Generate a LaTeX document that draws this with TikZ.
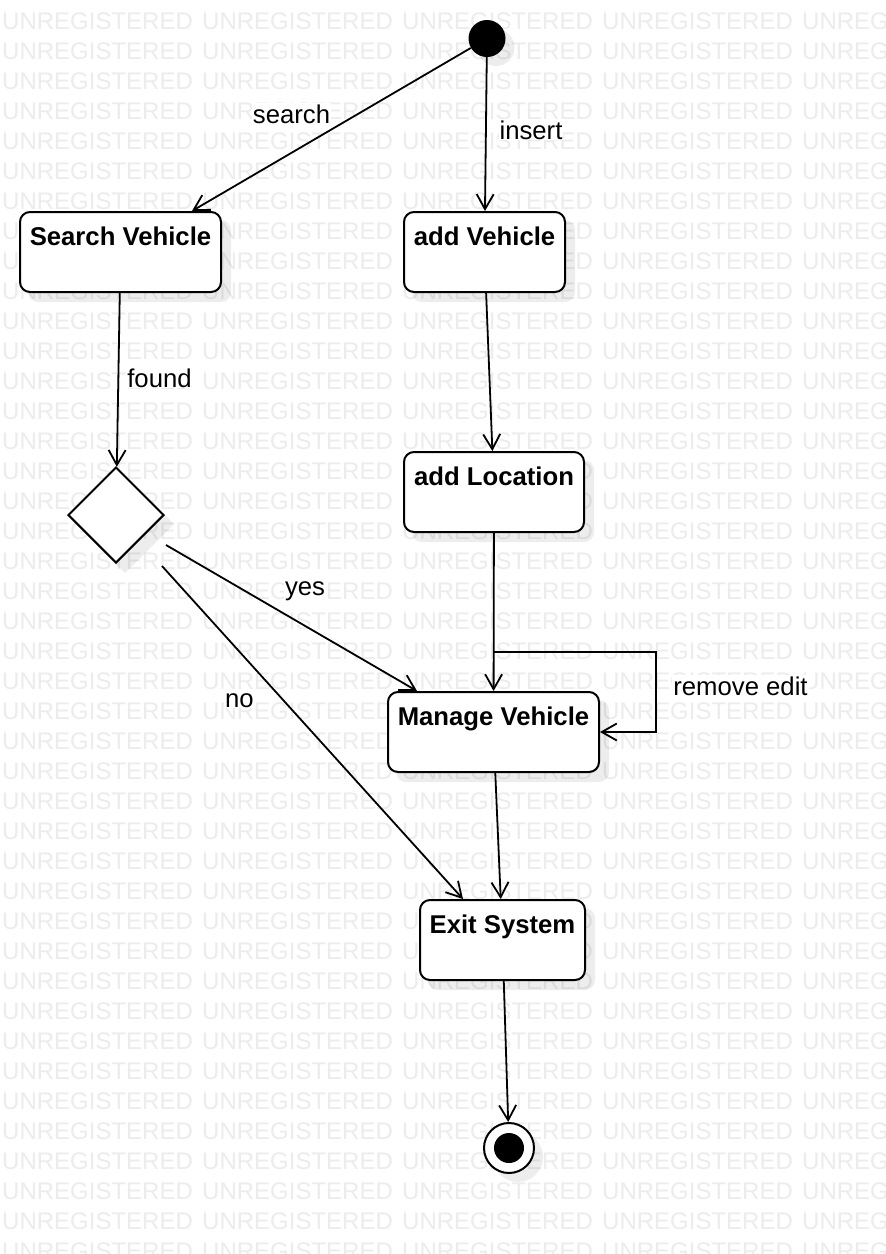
\documentclass[tikz,border=0pt]{standalone}
\usepackage{fontspec}
\setmainfont{Liberation Sans}
\usetikzlibrary{arrows.meta,shapes.geometric,calc}
\definecolor{wmc}{RGB}{236,236,236}
\pgfdeclarelayer{bg}
\pgfsetlayers{bg,main}
\begin{document}
\begin{tikzpicture}[x=1pt,y=-1pt,
  wm/.style={anchor=base west, inner sep=0pt, text=wmc, font=\fontsize{24}{24}\selectfont},
  shdw/.style={fill=black, opacity=0.07},
  box/.style={draw, line width=2pt, rounded corners=10pt, fill=white, inner sep=0pt,
    text height=33pt, text depth=47pt, minimum height=80pt,
    font=\bfseries\fontsize{25.7}{30}\selectfont},
  lbl/.style={fill=white, inner sep=1pt, anchor=base, font=\fontsize{25.7}{30}\selectfont},
  arr/.style={-{Straight Barb[length=15pt,width=17pt]}, line width=1.8pt}
]
\useasboundingbox (0,0) rectangle (886,1254);

% nodes
\node[circle, fill=black, minimum size=37pt, inner sep=0pt] (st) at (487,38.5) {};
\node[box, minimum width=201pt] (sv) at (120.5,252) {Search Vehicle};
\node[box, minimum width=161pt] (av) at (484.5,252) {add Vehicle};
\node[box, minimum width=180pt] (al) at (494,492) {add Location};
\node[box, minimum width=211pt] (mv) at (493.5,732) {Manage Vehicle};
\node[box, minimum width=165pt] (ex) at (502.5,940) {Exit System};
\node[diamond, draw, line width=2pt, fill=white, minimum width=96pt, minimum height=96pt, inner sep=0pt] (dec) at (116,515) {};
\node[circle, draw, line width=2pt, fill=white, minimum size=50pt, inner sep=0pt] (en) at (509,1148) {};
\fill[black] (en.center) circle (15);

% background: watermark and shadows
\begin{pgfonlayer}{bg}
\begin{scope}
\clip (0,0) rectangle (886,1254);
\fill[white] (0,0) rectangle (886,1254);
\foreach \r in {-1,...,41}
  \foreach \c in {0,...,4}
    \node[wm] at (2+200*\c, 29+30*\r) {UNREGISTERED};
\end{scope}
\foreach \n in {sv,av,al,mv,ex}
  \fill[shdw, rounded corners=10pt] ([shift={(9,9)}]\n.north west) rectangle ([shift={(9,9)}]\n.south east);
\fill[shdw] ([shift={(9,9)}]dec.north) -- ([shift={(9,9)}]dec.east) -- ([shift={(9,9)}]dec.south) -- ([shift={(9,9)}]dec.west) -- cycle;
\fill[shdw] ([shift={(9,9)}]st.center) circle (18.5);
\fill[shdw] ([shift={(9,9)}]en.center) circle (25);
\end{pgfonlayer}

% helper coordinates
\coordinate (d1) at (166,545);
\coordinate (d2) at (162,566);
\coordinate (lp) at (493,652);
\coordinate (lc) at (656,652);

% connectors
\draw[arr] (st) -- ([xshift=-30pt]sv.north east);
\draw[arr] (st) -- (av);
\draw[arr] (sv) -- (dec);
\draw[arr] (av) -- (al);
\draw[arr] (al) -- (mv);
\draw[arr] (lp) -- (lc) |- (mv.east);
\draw[arr] (d1) -- ([xshift=30pt]mv.north west);
\draw[arr] (d2) -- ([xshift=44pt]ex.north west);
\draw[arr] (mv) -- (ex);
\draw[arr] (ex) -- (en);

% labels
\node[lbl] (lsearch) at (291.5,123) {search};
\node[lbl] (linsert) at (531,139) {insert};
\node[lbl] (lfound) at (159.5,387) {found};
\node[lbl] (lyes) at (305,595) {yes};
\node[lbl] (lno) at (239.5,707) {no};
\node[lbl] (lrem) at (740.5,695) {remove edit};
\end{tikzpicture}
\end{document}
